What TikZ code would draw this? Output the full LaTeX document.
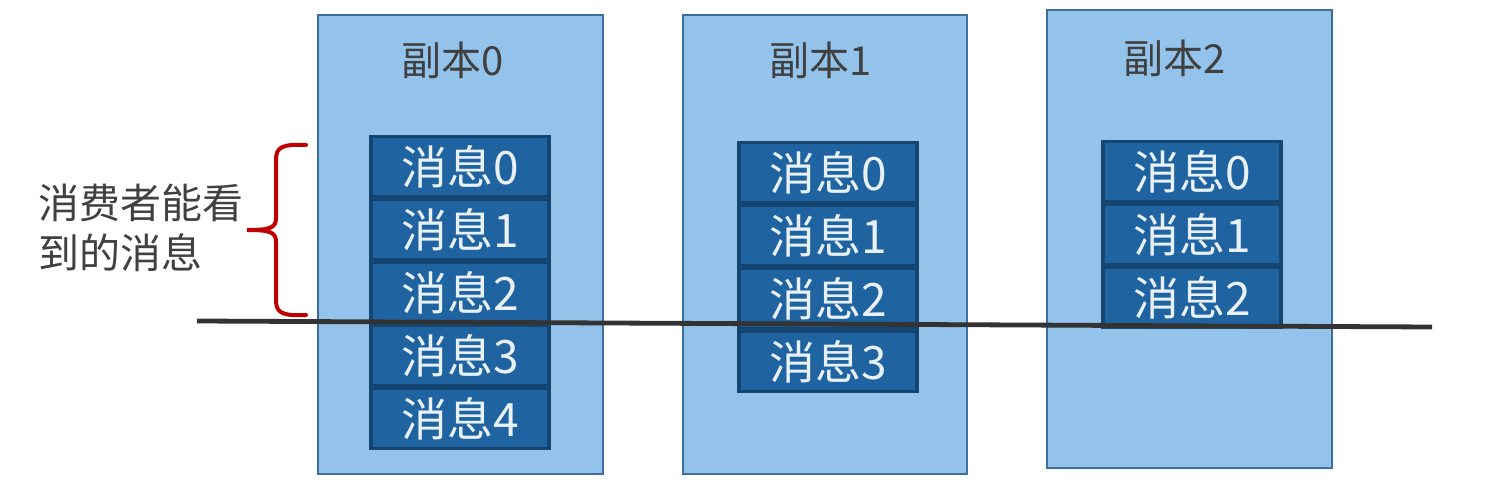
\documentclass[tikz,border=0pt]{standalone}
\usepackage{fontspec}
\setmainfont{Noto Sans CJK SC}
\usepackage{tikz}

\definecolor{replicafill}{HTML}{93C3EA}
\definecolor{replicaline}{HTML}{3C6F9E}
\definecolor{msgfill}{HTML}{1F64A1}
\definecolor{msgline}{HTML}{154672}
\definecolor{msgtext}{HTML}{E8F0F8}
\definecolor{labelgray}{HTML}{404040}
\definecolor{bracered}{HTML}{C00000}

\begin{document}
\begin{tikzpicture}[x=0.5pt,y=-0.5pt,
    replica/.style={draw=replicaline, fill=replicafill, line width=0.8pt},
    msg/.style={draw=msgline, fill=msgfill, line width=1.6pt, inner sep=0pt,
        minimum width=89pt, minimum height=29.9pt, text=msgtext,
        font=\fontsize{23}{23}\selectfont},
    title/.style={text=labelgray, font=\fontsize{20}{20}\selectfont},
    cutline/.style={draw=black!80, line width=2.4pt},
    brace/.style={draw=bracered, line width=2pt, line cap=round}]
    \useasboundingbox (0,0) rectangle (1500,486);

    \draw[replica] (318,15) rectangle (603,474);
    \draw[replica] (683,15) rectangle (967,474);
    \draw[replica] (1047,10) rectangle (1332,468);

    \node[title] (title0) at (453,60) {副本0};
    \node[title] (title1) at (821,60) {副本1};
    \node[title] (title2) at (1175,58) {副本2};

    \foreach \i in {0,...,4}{
        \node[msg] (a\i) at (460,166.5+63*\i) {消息\i};
    }
    \foreach \i in {0,...,3}{
        \node[msg] (b\i) at (828,172.5+63*\i) {消息\i};
    }
    \foreach \i in {0,...,2}{
        \node[msg] (c\i) at (1192,171.5+63*\i) {消息\i};
    }

    \coordinate (cutL) at (197,321);
    \coordinate (cutR) at (1432,327);
    \draw[cutline] (cutL) -- (cutR);

    \draw[brace] (306,145) .. controls (282,144) and (276,147) .. (276,160)
        -- (276,218) .. controls (276,228) and (270,230) .. (247,230)
        .. controls (270,230) and (276,232) .. (276,242)
        -- (276,300) .. controls (276,313) and (282,316) .. (306,315);

    \node[anchor=west, align=left, text=labelgray, font=\fontsize{20.5}{25}\selectfont]
        (seen) at (31,228) {消费者能看\\到的消息};
\end{tikzpicture}
\end{document}
